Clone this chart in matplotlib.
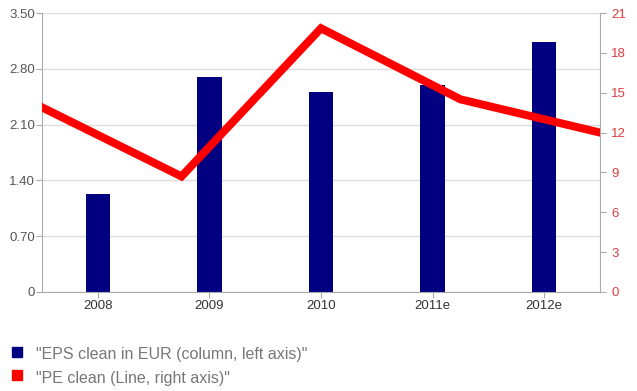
import numpy as np
import matplotlib
matplotlib.use("Agg")
from matplotlib import pyplot as plt
from matplotlib.patches import Rectangle

years = ["2008", "2009", "2010", "2011e", "2012e"]
eps = [1.23, 2.70, 2.51, 2.60, 3.14]
pe = [13.9, 8.7, 19.85, 14.5, 12.0]
left_ticks = [0, 0.70, 1.40, 2.10, 2.80, 3.50]
left_labels = ["0", "0.70", "1.40", "2.10", "2.80", "3.50"]
right_ticks = [0, 3, 6, 9, 12, 15, 18, 21]

plt.rcParams['font.family'] = ['Liberation Sans', 'DejaVu Sans']

fig = plt.figure(figsize=(6.37, 3.91), dpi=100)
pos = [42/637, 1 - 292/391, (600-42)/637, (292-13)/391]

ax = fig.add_axes(pos)
x = np.arange(len(years))
ax.bar(x, eps, width=0.22, color="#000080", zorder=2)
ax.set_xlim(-0.5, len(years) - 0.5)
ax.set_ylim(0, 3.5)
ax.set_yticks(left_ticks)
ax.set_yticklabels(left_labels)
ax.set_xticks(x)
ax.set_xticklabels(years)
ax.grid(axis="y", color="#dddddd", linewidth=1, zorder=0)
for s in ["top", "right"]:
    ax.spines[s].set_visible(False)
for s in ["left", "bottom"]:
    ax.spines[s].set_color("#aaaaaa")
ax.tick_params(axis="y", colors="#aaaaaa", labelcolor="#555555", labelsize=9.5, length=4, pad=1)
ax.tick_params(axis="x", colors="#aaaaaa", labelcolor="#333333", labelsize=9.5, length=4, pad=2)

# line on its own axes, spanning full width
ax2 = fig.add_axes(pos, facecolor="none")
ax2.plot(np.arange(len(pe)), pe, color="#ff0000", linewidth=5.8, solid_joinstyle="miter", zorder=3)
ax2.set_xlim(0, len(pe) - 1)
ax2.set_ylim(0, 21)
ax2.set_yticks(right_ticks)
ax2.yaxis.tick_right()
ax2.set_xticks([])
for s in ["top", "left", "bottom"]:
    ax2.spines[s].set_visible(False)
ax2.spines["right"].set_color("#aaaaaa")
ax2.tick_params(axis="y", colors="#aaaaaa", labelcolor="#e03c3c", labelsize=9.5, length=4, pad=4)

# legend below
fig.patches.append(Rectangle((12/637, 1 - 357/391), 10/637, 10/391, color="#000080", transform=fig.transFigure))
fig.patches.append(Rectangle((12/637, 1 - 380/391), 10/637, 10/391, color="#ff0000", transform=fig.transFigure))
fig.text(36/637, 1 - 355/391, '"EPS clean in EUR (column, left axis)"', color="#777777", fontsize=11.5, va="center")
fig.text(36/637, 1 - 379/391, '"PE clean (Line, right axis)"', color="#777777", fontsize=11.5, va="center")

fig.savefig("out.png", dpi=100)
